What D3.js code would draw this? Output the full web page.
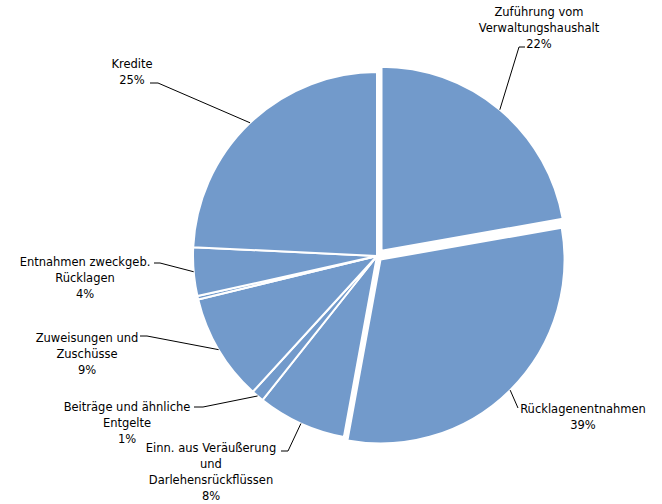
<!DOCTYPE html>
<html>
<head>
<meta charset="utf-8">
<script src="https://cdn.jsdelivr.net/npm/d3@7"></script>
<style>
  html, body { margin: 0; padding: 0; background: #fff; }
  svg { display: block; }
  text { font-family: "DejaVu Sans", Verdana, sans-serif; font-size: 11.5px; fill: #000; }
</style>
</head>
<body>
<svg id="chart" width="662" height="504"></svg>
<script>
// ---- data ----
const categories = [
  "Zuführung vom Verwaltungshaushalt",
  "Rücklagenentnahmen",
  "Einn. aus Veräußerung und Darlehensrückflüssen",
  "Beiträge und ähnliche Entgelte",
  "Zuweisungen und Zuschüsse",
  "Sonstige",
  "Entnahmen zweckgeb. Rücklagen",
  "Kredite"
];
const values = [22.2, 30.6, 7.8, 1.1, 9.4, 0.3, 4.25, 24.2];
const labelPercents = ["22%", "39%", "8%", "1%", "9%", "", "4%", "25%"];
const labelLines = [
  ["Zuführung vom", "Verwaltungshaushalt"],
  ["Rücklagenentnahmen"],
  ["Einn. aus Veräußerung", "und", "Darlehensrückflüssen"],
  ["Beiträge und ähnliche", "Entgelte"],
  ["Zuweisungen und", "Zuschüsse"],
  [],
  ["Entnahmen zweckgeb.", "Rücklagen"],
  ["Kredite"]
];
const exploded = [7, 5, 0, 0, 0, 0, 0, 0];

// ---- layout (positions only) ----
const cx = 377, cy = 256, R = 184;
const labelLayout = [
  { x: 539, y: 12, pts: [[519, 47], [525, 47]] },
  { x: 583, y: 409, pts: [[518, 408]] },
  { x: 211, y: 448, pts: [[288, 451], [281, 451]] },
  { x: 127, y: 407, pts: [[203, 407], [194, 407]] },
  { x: 87,  y: 338, pts: [[147, 336], [140, 336]] },
  null,
  { x: 85,  y: 262, pts: [[160, 263], [154, 263]] },
  { x: 132, y: 64,  pts: [[158, 83], [150, 83]] }
];
const lineH = 16;
const color = "#729acb";

const svg = d3.select("#chart");
const g = svg.append("g").attr("transform", `translate(${cx},${cy})`);

const pie = d3.pie().sort(null).value(d => d);
const arcs = pie(values);
const arc = d3.arc().innerRadius(0).outerRadius(R);

function offsetOf(d, i) {
  const a = (d.startAngle + d.endAngle) / 2;
  const o = exploded[i];
  return [Math.sin(a) * o, -Math.cos(a) * o];
}

g.selectAll("path.slice")
  .data(arcs)
  .join("path")
  .attr("class", "slice")
  .attr("d", arc)
  .attr("transform", (d, i) => { const o = offsetOf(d, i); return `translate(${o[0]},${o[1]})`; })
  .attr("fill", color)
  .attr("stroke", "#fff")
  .attr("stroke-width", 2)
  .attr("stroke-linejoin", "round");

// leader lines
const line = d3.line();
arcs.forEach((d, i) => {
  const L = labelLayout[i];
  if (!L) return;
  const a = (d.startAngle + d.endAngle) / 2;
  const o = offsetOf(d, i);
  const sx = cx + o[0] + Math.sin(a) * R;
  const sy = cy + o[1] - Math.cos(a) * R;
  const pts = [[sx, sy]].concat(L.pts);
  svg.append("path")
    .attr("d", line(pts))
    .attr("fill", "none")
    .attr("stroke", "#000")
    .attr("stroke-width", 1);
});

// labels
arcs.forEach((d, i) => {
  const L = labelLayout[i];
  if (!L) return;
  const lines = labelLines[i].concat([labelPercents[i]]);
  const t = svg.append("text")
    .attr("text-anchor", "middle");
  lines.forEach((s, k) => {
    t.append("tspan")
      .attr("x", L.x)
      .attr("y", L.y + k * lineH)
      .attr("dy", "0.35em")
      .text(s);
  });
});
</script>
</body>
</html>
